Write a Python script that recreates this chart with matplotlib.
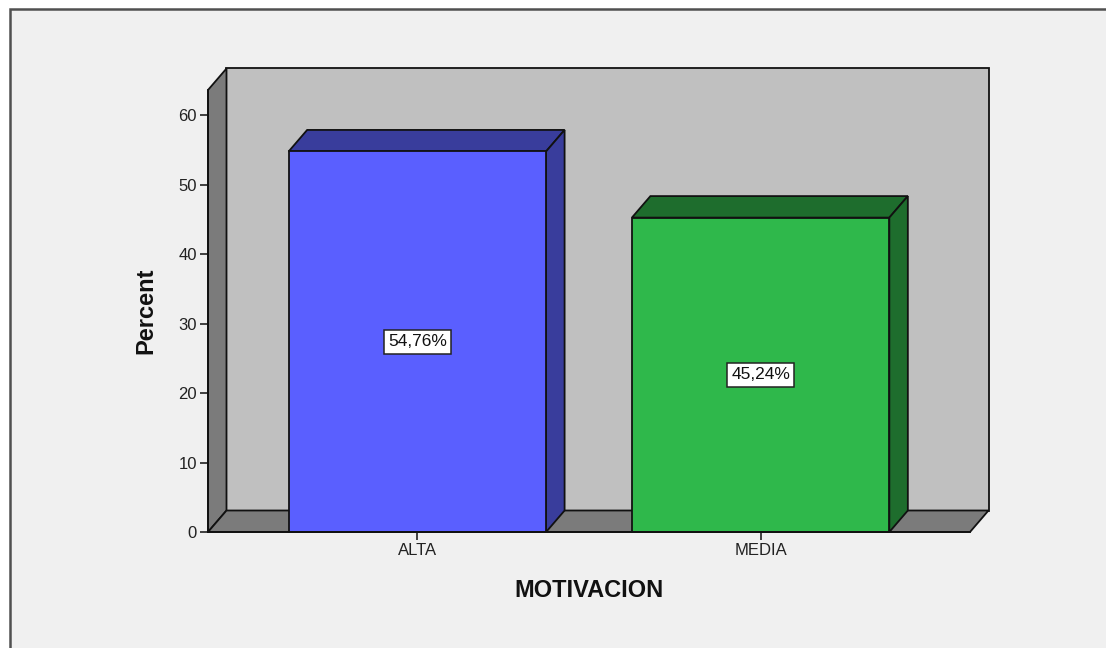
import matplotlib
matplotlib.use("Agg")
import matplotlib.pyplot as plt
from matplotlib.patches import Polygon, Rectangle

categories = ["ALTA", "MEDIA"]
percents = [54.76, 45.24]
labels = ["54,76%", "45,24%"]
yticks = [0, 10, 20, 30, 40, 50, 60]

front_colors = ["#5a5fff", "#2fb84b"]
dark_colors = ["#393d9c", "#1e6d2d"]

W, H, DPI = 1106, 648, 100
fig = plt.figure(figsize=(W / DPI, H / DPI), dpi=DPI, facecolor="white")
plt.rcParams["font.family"] = ["Liberation Sans", "DejaVu Sans"]

# outer panel frame
fig.patches.append(Rectangle((10 / W, -0.05), 1.1, 1.05 - 9 / H,
                             transform=fig.transFigure, facecolor="#f0f0f0",
                             edgecolor="#505050", linewidth=1.8, zorder=-5))

# front plane in pixels
L, R, B, T = 208, 970, 532, 90
ax = fig.add_axes([L / W, (H - B) / H, (R - L) / W, (B - T) / H])
ax.set_zorder(2)
ax.set_facecolor("none")
xmin, xmax = -0.61, 1.61
ymax = 63.6
ax.set_xlim(xmin, xmax)
ax.set_ylim(0, ymax)

px_x = (R - L) / (xmax - xmin)
px_y = (B - T) / ymax
ddx = 18.5 / px_x
ddy = 21.5 / px_y

gray_wall = "#c0c0c0"
gray_side = "#7b7b7b"
ec = "#111111"
lw = 1.3

def poly(pts, fc, z):
    ax.add_patch(Polygon(pts, closed=True, facecolor=fc, edgecolor=ec,
                         linewidth=lw, clip_on=False, zorder=z, joinstyle="miter"))

# back wall
poly([(xmin + ddx, ddy), (xmax + ddx, ddy), (xmax + ddx, ymax + ddy), (xmin + ddx, ymax + ddy)], gray_wall, 1)
# left side wall
poly([(xmin, 0), (xmin + ddx, ddy), (xmin + ddx, ymax + ddy), (xmin, ymax)], gray_side, 2)
# floor
poly([(xmin, 0), (xmax, 0), (xmax + ddx, ddy), (xmin + ddx, ddy)], gray_side, 2)

bw = 0.75
for i, (v, fc, dc, lab) in enumerate(zip(percents, front_colors, dark_colors, labels)):
    x0, x1 = i - bw / 2, i + bw / 2
    # top
    poly([(x0, v), (x1, v), (x1 + ddx, v + ddy), (x0 + ddx, v + ddy)], dc, 3)
    # right side
    poly([(x1, 0), (x1 + ddx, ddy), (x1 + ddx, v + ddy), (x1, v)], dc, 3)
    # front
    poly([(x0, 0), (x1, 0), (x1, v), (x0, v)], fc, 4)
    ax.text(i, v / 2, lab, ha="center", va="center", fontsize=12.5, color="#111111", zorder=6,
            bbox=dict(boxstyle="square,pad=0.25", facecolor="white", edgecolor="#222222", linewidth=1.1))

for s in ["top", "right"]:
    ax.spines[s].set_visible(False)
for s in ["left", "bottom"]:
    ax.spines[s].set_linewidth(lw)
    ax.spines[s].set_color(ec)
    ax.spines[s].set_zorder(5)

ax.set_yticks(yticks)
ax.set_yticklabels([str(t) for t in yticks])
ax.set_xticks(range(len(categories)))
ax.set_xticklabels(categories)
ax.tick_params(axis="both", direction="out", length=6, width=1.2, color="#222222",
               labelsize=12, labelcolor="#222222", pad=2)

ax.set_ylabel("Percent", fontsize=17, fontweight="bold", labelpad=15, color="#111111")
ax.set_xlabel("MOTIVACION", fontsize=17, fontweight="bold", labelpad=15, color="#111111")

fig.savefig("out.png", dpi=DPI, facecolor="white")
